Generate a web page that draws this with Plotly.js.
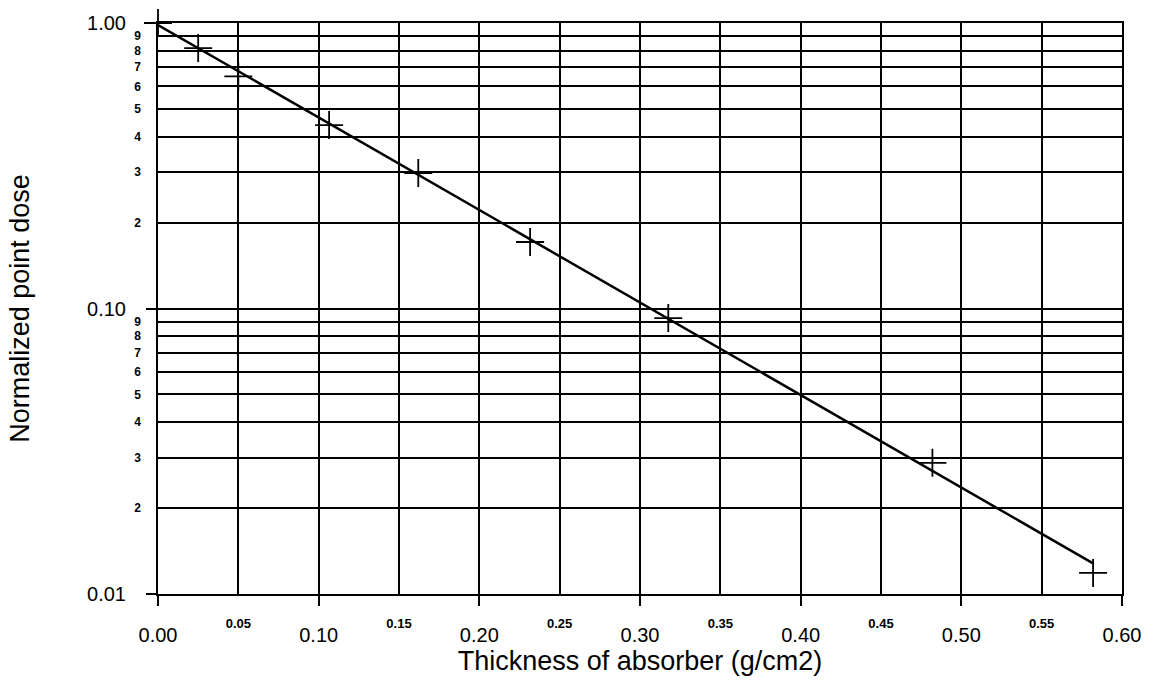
<!DOCTYPE html>
<html>
<head>
<meta charset="utf-8">
<script src="https://cdn.plot.ly/plotly-3.0.1.min.js"></script>
<style>html,body{margin:0;padding:0;background:#fff;}#chart{width:1156px;height:680px;}</style>
</head>
<body>
<div id="chart"></div>
<script>
// Measured points (thickness in g/cm2, normalized point dose)
const thickness = [0.0, 0.025, 0.050, 0.1065, 0.162, 0.2316, 0.3176, 0.482, 0.582];
const dose      = [1.00, 0.817, 0.650, 0.439, 0.298, 0.171, 0.0926, 0.0288, 0.01185];

// Exponential fit line end points
const fitThickness = [0.0, 0.582];
const fitDose      = [0.984, 0.0128];

// Axis ticks
const xMajorVals = [0, 0.1, 0.2, 0.3, 0.4, 0.5, 0.6];
const xMajorText = ["0.00", "0.10", "0.20", "0.30", "0.40", "0.50", "0.60"];
const xMinorVals = [0.05, 0.15, 0.25, 0.35, 0.45, 0.55];
const xMinorText = ["0.05", "0.15", "0.25", "0.35", "0.45", "0.55"];

const yMajorVals = [0.01, 0.1, 1.0];
const yMajorText = ["0.01", "0.10", "1.00"];
const yMinorVals = [0.02, 0.03, 0.04, 0.05, 0.06, 0.07, 0.08, 0.09,
                    0.2, 0.3, 0.4, 0.5, 0.6, 0.7, 0.8, 0.9];
const yMinorText = ["2", "3", "4", "5", "6", "7", "8", "9",
                    "2", "3", "4", "5", "6", "7", "8", "9"];

const FONT = '"Liberation Sans", Arial, Helvetica, sans-serif';

const traces = [
  {
    x: fitThickness, y: fitDose, mode: 'lines', type: 'scatter',
    line: {color: '#000', width: 2.5}, hoverinfo: 'skip', showlegend: false
  },
  {
    x: thickness, y: dose, mode: 'markers', type: 'scatter',
    marker: {symbol: 'cross-thin', size: 20, color: '#000', line: {color: '#000', width: 1.8}},
    cliponaxis: false, showlegend: false
  },
  {
    x: [null], y: [null], xaxis: 'x2', yaxis: 'y2', mode: 'markers', type: 'scatter',
    showlegend: false, hoverinfo: 'skip'
  }
];

const layout = {
  width: 1156, height: 680,
  margin: {l: 158, r: 34, t: 23, b: 86, pad: 0},
  paper_bgcolor: '#fff', plot_bgcolor: '#fff',
  showlegend: false,
  font: {family: FONT, color: '#000'},
  xaxis: {
    range: [0, 0.6], autorange: false,
    tickmode: 'array', tickvals: xMajorVals, ticktext: xMajorText,
    tickfont: {family: FONT, size: 20, color: '#000'},
    ticks: 'outside', ticklen: 10, tickwidth: 2, tickcolor: '#000',
    ticklabelstandoff: 12,
    showgrid: true, gridcolor: '#000', gridwidth: 2,
    minor: {tickmode: 'array', tickvals: xMinorVals, showgrid: true, gridcolor: '#000', gridwidth: 2, ticks: ''},
    showline: true, linecolor: '#000', linewidth: 2, mirror: true,
    zeroline: false, automargin: false,
    title: {text: 'Thickness of absorber (g/cm2)', font: {family: FONT, size: 27, color: '#000'}, standoff: 6}
  },
  xaxis2: {
    overlaying: 'x', anchor: 'y', side: 'bottom',
    range: [0, 0.6], autorange: false,
    tickmode: 'array', tickvals: xMinorVals, ticktext: xMinorText,
    tickfont: {family: FONT, size: 13, color: '#000', weight: 'bold'},
    ticks: '', ticklabelstandoff: 20,
    showgrid: false, showline: false, zeroline: false, automargin: false
  },
  yaxis: {
    type: 'log', range: [-2, 0], autorange: false,
    tickmode: 'array', tickvals: yMajorVals, ticktext: yMajorText,
    tickfont: {family: FONT, size: 20, color: '#000'},
    ticks: 'outside', ticklen: 10, tickwidth: 2, tickcolor: '#000',
    ticklabelstandoff: 16,
    showgrid: true, gridcolor: '#000', gridwidth: 2,
    minor: {tickmode: 'array', tickvals: yMinorVals, showgrid: true, gridcolor: '#000', gridwidth: 2, ticks: ''},
    showline: true, linecolor: '#000', linewidth: 2, mirror: true,
    zeroline: false, automargin: false,
    title: {text: 'Normalized point dose', font: {family: FONT, size: 27, color: '#000'}, standoff: 50}
  },
  yaxis2: {
    overlaying: 'y', anchor: 'x', side: 'left',
    type: 'log', range: [-2, 0], autorange: false,
    tickmode: 'array', tickvals: yMinorVals, ticktext: yMinorText,
    tickfont: {family: FONT, size: 12, color: '#000', weight: 'bold'},
    ticks: '', ticklabelstandoff: 16,
    showgrid: false, showline: false, zeroline: false, automargin: false
  }
};

Plotly.newPlot('chart', traces, layout, {displayModeBar: false, staticPlot: true});
</script>
</body>
</html>
